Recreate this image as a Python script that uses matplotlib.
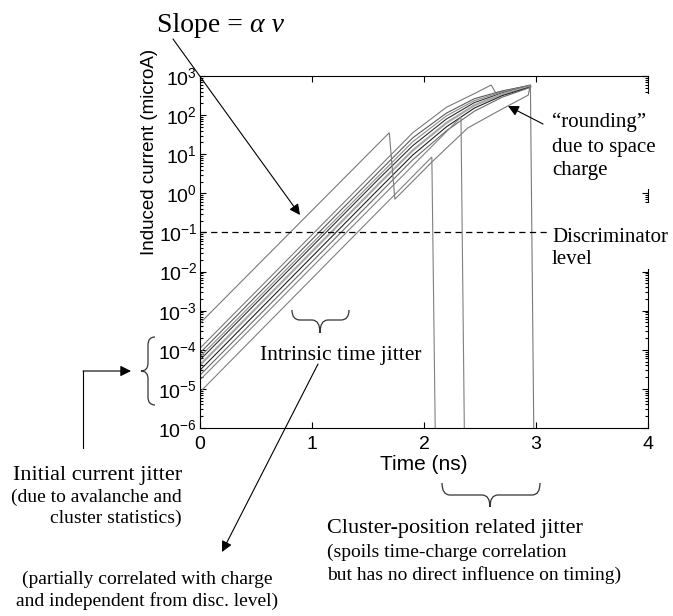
import numpy as np
import matplotlib
matplotlib.use("Agg")
import matplotlib.pyplot as plt
from matplotlib.path import Path
from matplotlib.patches import PathPatch, Rectangle
from matplotlib.ticker import FixedLocator, FixedFormatter, LogLocator, NullFormatter

plt.rcParams['mathtext.fontset'] = 'custom'
plt.rcParams['mathtext.rm'] = 'Liberation Sans'
plt.rcParams['mathtext.it'] = 'Liberation Sans:italic'
plt.rcParams['mathtext.bf'] = 'Liberation Sans:bold'

# ---------------- data (time in ns, log10 of induced current in microA) -------------
x_ticks = [0, 1, 2, 3, 4]
y_exponents = [-6, -5, -4, -3, -2, -1, 0, 1, 2, 3]
disc_level = 0.1
disc_t = [0.0, 3.12]

c01_t = [0.0, 1.60, 1.90, 2.20, 2.45, 2.60, 2.64, 2.95]
c01_log = [-3.96, 0.68, 1.55, 2.20, 2.55, 2.77, 2.57, 2.77]
c02_t = [0.0, 1.60, 1.90, 2.20, 2.45, 2.70, 2.95]
c02_log = [-4.08, 0.56, 1.42, 2.05, 2.42, 2.62, 2.76]
c03_t = [0.0, 1.60, 1.90, 2.20, 2.45, 2.70, 2.95]
c03_log = [-4.18, 0.46, 1.32, 1.98, 2.37, 2.60, 2.75]
c04_t = [0.0, 1.60, 1.90, 2.20, 2.45, 2.70, 2.95]
c04_log = [-4.26, 0.38, 1.22, 1.90, 2.32, 2.57, 2.74]
c05_t = [0.0, 1.60, 1.90, 2.20, 2.45, 2.70, 2.95]
c05_log = [-4.39, 0.25, 1.10, 1.80, 2.25, 2.54, 2.73]
c06_t = [0.0, 1.60, 1.90, 2.20, 2.45, 2.70, 2.95]
c06_log = [-4.52, 0.12, 0.98, 1.70, 2.18, 2.50, 2.72]
c07_t = [0.0, 1.60, 1.90, 2.20, 2.45, 2.70, 2.95]
c07_log = [-4.65, -0.01, 0.86, 1.60, 2.10, 2.46, 2.71]
c08_t = [0.0, 2.33, 2.36]
c08_log = [-4.77, 1.95, -6.0]
c09_t = [0.0, 2.07, 2.10]
c09_log = [-5.08, 0.93, -6.0]
c10_t = [0.0, 1.69, 1.74, 2.07, 2.39, 2.68, 2.93, 2.95, 2.98]
c10_log = [-3.32, 1.55, -0.15, 0.80, 1.67, 2.13, 2.51, 2.77, -6.0]

curves_t = [c01_t, c02_t, c03_t, c04_t, c05_t, c06_t, c07_t, c08_t, c09_t, c10_t]
curves_log = [c01_log, c02_log, c03_log, c04_log, c05_log, c06_log, c07_log,
              c08_log, c09_log, c10_log]

# ---------------- styles ----------------
curve_colors = ['#7a7a7a', '#5a5a5a', '#8a8a8a', '#303030', '#a8a8a8',
                '#202020', '#6a6a6a', '#808080', '#808080', '#7a7a7a']
curve_lw = [0.8, 0.8, 0.8, 0.8, 1.6, 0.8, 0.8, 0.8, 0.8, 0.8]

W, H = 673, 616
fig = plt.figure(figsize=(W / 100, H / 100), dpi=100)
fig.patch.set_facecolor('white')

ax_l, ax_r, ax_t, ax_b = 200, 648, 76, 428
ax = fig.add_axes([ax_l / W, 1 - ax_b / H, (ax_r - ax_l) / W, (ax_b - ax_t) / H])
ax.set_yscale('log')
ax.set_xlim(0, 4)
ax.set_ylim(10.0 ** y_exponents[0], 10.0 ** y_exponents[-1])

for t, lg, c, lw in zip(curves_t, curves_log, curve_colors, curve_lw):
    ax.plot(t, 10.0 ** np.array(lg), color=c, lw=lw, solid_joinstyle='miter')

ax.plot(disc_t, [disc_level, disc_level], color='black', lw=0.9,
        dashes=(5, 3.5), zorder=5)

ax.xaxis.set_major_locator(FixedLocator(x_ticks))
ax.xaxis.set_major_formatter(FixedFormatter([str(v) for v in x_ticks]))
ax.yaxis.set_major_locator(FixedLocator([10.0 ** e for e in y_exponents]))
ax.yaxis.set_major_formatter(FixedFormatter([r'$10^{%d}$' % e for e in y_exponents]))
ax.yaxis.set_minor_locator(LogLocator(base=10, subs=np.arange(2, 10)))
ax.yaxis.set_minor_formatter(NullFormatter())
ax.tick_params(which='both', direction='in', top=True, right=True, width=0.8,
               labelsize=14)
ax.tick_params(which='major', length=4)
ax.tick_params(which='minor', length=2.2)
ax.tick_params(axis='y', pad=2)
ax.tick_params(axis='x', pad=6)
for lab in ax.get_xticklabels() + ax.get_yticklabels():
    lab.set_fontfamily('Liberation Sans')
for s in ax.spines.values():
    s.set_linewidth(0.8)

# ---------------- overlay in pixel coordinates ----------------
ov = fig.add_axes([0, 0, 1, 1], zorder=10)
ov.set_xlim(0, W)
ov.set_ylim(H, 0)
ov.axis('off')
ov.patch.set_alpha(0)

# white boxes behind right-hand labels (hide parts of the right spine)
ov.add_patch(Rectangle((549, 94), 115, 95, facecolor='white', edgecolor='none'))
ov.add_patch(Rectangle((549, 203), 124, 66, facecolor='white', edgecolor='none'))

sans = 'Liberation Sans'
serif = 'Liberation Serif'

ov.text(424, 465, 'Time (ns)', family=sans, fontsize=15, ha='center', va='center')
ov.text(149, 152, 'Induced current (microA)', family=sans, fontsize=13.5,
        rotation=90, ha='center', va='center')

ov.text(157, 32, 'Slope =', family=serif, fontsize=20, ha='left', va='baseline')
ov.text(250, 32, 'α v', family=serif, fontsize=20, style='italic', ha='left',
        va='baseline')

ov.text(552, 127, '\u201crounding\u201d', family=serif, fontsize=15, va='baseline')
ov.text(552, 152, 'due to space', family=serif, fontsize=15, va='baseline')
ov.text(552, 175, 'charge', family=serif, fontsize=15, va='baseline')
ov.text(552, 242, 'Discriminator', family=serif, fontsize=15, va='baseline')
ov.text(552, 264, 'level', family=serif, fontsize=15, va='baseline')

ov.text(341, 360, 'Intrinsic time jitter', family=serif, fontsize=15.5,
        ha='center', va='baseline')

ov.text(182, 480, 'Initial current jitter', family=serif, fontsize=16,
        ha='right', va='baseline')
ov.text(182, 502, '(due to avalanche and', family=serif, fontsize=14,
        ha='right', va='baseline')
ov.text(182, 523, 'cluster statistics)', family=serif, fontsize=14,
        ha='right', va='baseline')

ov.text(327, 533, 'Cluster-position related jitter', family=serif, fontsize=16,
        ha='left', va='baseline')
ov.text(327, 557, '(spoils time-charge correlation', family=serif, fontsize=14,
        ha='left', va='baseline')
ov.text(327, 580, 'but has no direct influence on timing)', family=serif,
        fontsize=14, ha='left', va='baseline')

ov.text(147, 584, '(partially correlated with charge', family=serif, fontsize=14,
        ha='center', va='baseline')
ov.text(147, 606, 'and independent from disc. level)', family=serif, fontsize=14,
        ha='center', va='baseline')

# arrows
aprops = dict(arrowstyle='-|>', color='black', lw=0.8, mutation_scale=16,
              shrinkA=0, shrinkB=0)
ov.annotate('', xy=(300, 215), xytext=(173, 39), arrowprops=aprops)
ov.annotate('', xy=(508, 106), xytext=(543, 124), arrowprops=aprops)
ov.annotate('', xy=(222, 552), xytext=(318, 364), arrowprops=aprops)
ov.plot([83, 83], [448, 371], color='black', lw=0.8)
ov.annotate('', xy=(131, 371), xytext=(83, 371), arrowprops=aprops)


def hbrace(x0, x1, ytop, ybar, ytip, xm=None):
    if xm is None:
        xm = 0.5 * (x0 + x1)
    r = 8
    verts = [(x0, ytop), (x0, ybar), (x0 + r, ybar), (xm - r, ybar),
             (xm, ybar), (xm, ytip),
             (xm, ybar), (xm + r, ybar), (x1 - r, ybar), (x1, ybar), (x1, ytop)]
    codes = [Path.MOVETO, Path.CURVE3, Path.CURVE3, Path.LINETO,
             Path.CURVE3, Path.CURVE3,
             Path.CURVE3, Path.CURVE3, Path.LINETO, Path.CURVE3, Path.CURVE3]
    ov.add_patch(PathPatch(Path(verts, codes), facecolor='none',
                           edgecolor='#333333', lw=0.9))


def vbrace(xend, xbar, xtip, y0, y1):
    ym = 0.5 * (y0 + y1)
    r = 8
    verts = [(xend, y0), (xbar, y0), (xbar, y0 + r), (xbar, ym - r),
             (xbar, ym), (xtip, ym),
             (xbar, ym), (xbar, ym + r), (xbar, y1 - r), (xbar, y1), (xend, y1)]
    codes = [Path.MOVETO, Path.CURVE3, Path.CURVE3, Path.LINETO,
             Path.CURVE3, Path.CURVE3,
             Path.CURVE3, Path.CURVE3, Path.LINETO, Path.CURVE3, Path.CURVE3]
    ov.add_patch(PathPatch(Path(verts, codes), facecolor='none',
                           edgecolor='#333333', lw=0.9))


hbrace(292, 349, 310, 320, 333, xm=320)
hbrace(442, 540, 483, 495, 507, xm=490)
vbrace(155, 148, 141, 337, 405)

fig.savefig('out.png', dpi=100, facecolor='white')
